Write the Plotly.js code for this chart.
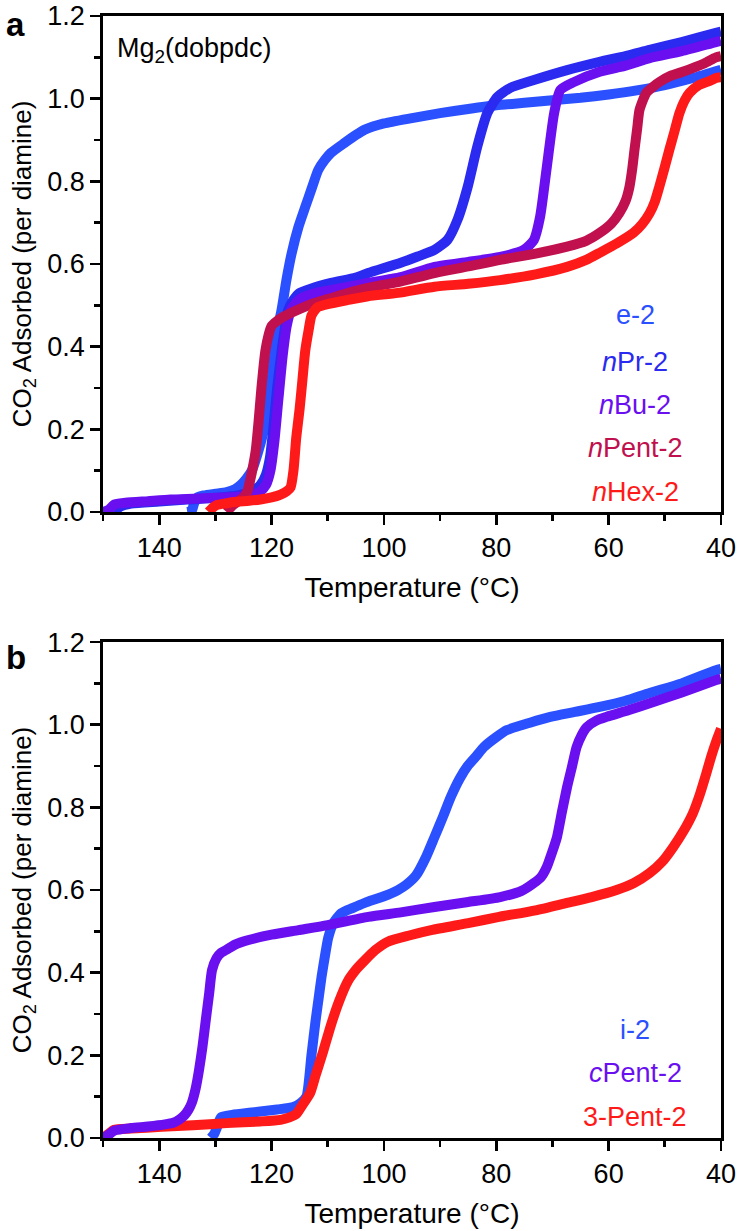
<!DOCTYPE html>
<html>
<head>
<meta charset="utf-8">
<script src="https://cdn.plot.ly/plotly-3.0.1.min.js"></script>
<style>html,body{margin:0;padding:0;background:#fff;}#chart{width:739px;height:1231px;}</style>
</head>
<body>
<div id="chart"></div>
<script>
// ---------- Panel a data : Mg2(dobpdc) ----------
const e2T = [135, 134.2, 133.8, 133.2, 132, 130, 128, 126.5, 125.5, 124.5, 123.5, 122.5, 121.5, 120.5, 119.6, 118.8, 118.2, 117.3, 116.4, 115.2, 114, 112.8, 111.7, 110.5, 109.4, 107, 105, 103.4, 100, 95, 90, 85, 80, 75, 70, 65, 60, 55, 50, 45, 40];
const e2Y = [0.0, 0.003, 0.02, 0.035, 0.04, 0.044, 0.048, 0.055, 0.065, 0.08, 0.1, 0.14, 0.19, 0.26, 0.37, 0.45, 0.49, 0.565, 0.627, 0.69, 0.738, 0.785, 0.827, 0.852, 0.869, 0.893, 0.912, 0.925, 0.94, 0.953, 0.965, 0.975, 0.984, 0.99, 0.996, 1.002, 1.01, 1.02, 1.033, 1.05, 1.07];

const nPrT = [148, 147, 145, 140, 135, 130, 126, 123.5, 122, 121, 120.3, 119.7, 119, 118.2, 117.5, 117, 116, 115.2, 113, 109.4, 105, 102.8, 97, 94, 91, 88.7, 86.9, 85.1, 83.4, 81.6, 79.8, 77.5, 73.3, 67.4, 61.6, 57, 52.7, 47, 40.9, 40];
const nPrY = [0.0, 0.012, 0.02, 0.025, 0.03, 0.034, 0.04, 0.05, 0.065, 0.09, 0.13, 0.2, 0.3, 0.39, 0.455, 0.49, 0.515, 0.528, 0.54, 0.554, 0.567, 0.578, 0.603, 0.618, 0.634, 0.658, 0.707, 0.786, 0.883, 0.965, 1.004, 1.026, 1.045, 1.069, 1.089, 1.103, 1.118, 1.137, 1.159, 1.162];

const nBuT = [150, 149, 148, 146, 142, 138, 134, 130, 126, 123.5, 122, 121, 120.2, 119.5, 118.8, 118, 117.3, 116.5, 115, 112, 109, 105, 102.8, 97, 91, 85, 79.3, 75.1, 73.3, 72.2, 71, 69.7, 68.6, 66.2, 61.6, 57, 52.7, 47, 40.9, 40];
const nBuY = [0.0, 0.005, 0.018, 0.022, 0.026, 0.03, 0.032, 0.034, 0.037, 0.042, 0.05, 0.065, 0.1, 0.17, 0.27, 0.38, 0.45, 0.49, 0.515, 0.53, 0.538, 0.548, 0.554, 0.568, 0.593, 0.605, 0.617, 0.634, 0.658, 0.714, 0.835, 0.965, 1.021, 1.04, 1.065, 1.08, 1.098, 1.115, 1.137, 1.14];

const nPentT = [128, 127, 126, 125, 124.3, 123.8, 123.3, 122.8, 122.3, 121.8, 121.1, 120.5, 120, 119, 118.2, 116, 114, 112.2, 110, 105, 100, 97.5, 91, 85, 79.3, 73, 67.4, 64, 61.6, 59.5, 58.1, 57, 56.3, 55.8, 55.4, 54.9, 54.5, 53.3, 52, 51, 49, 46.8, 43, 40.9, 40];
const nPentY = [0.0, 0.015, 0.025, 0.035, 0.05, 0.077, 0.11, 0.15, 0.22, 0.3, 0.39, 0.43, 0.45, 0.462, 0.47, 0.485, 0.497, 0.506, 0.515, 0.535, 0.55, 0.556, 0.578, 0.594, 0.61, 0.625, 0.642, 0.656, 0.675, 0.698, 0.723, 0.752, 0.786, 0.83, 0.876, 0.93, 0.973, 1.014, 1.03, 1.04, 1.055, 1.065, 1.085, 1.1, 1.103];

const nHexT = [131.2, 130.5, 129.7, 128, 126.7, 124, 122, 120, 118.4, 117.3, 116.6, 116.1, 115.6, 115, 114.5, 114, 113.4, 112.9, 112.2, 111.7, 110, 106.4, 102.8, 97.5, 91, 85, 79.3, 73, 67.4, 64, 61.6, 58.5, 55.6, 54, 52.7, 51.8, 51, 50.1, 49.2, 48.3, 47.4, 46.5, 45.6, 43.9, 42, 40.9, 40];
const nHexY = [0.0, 0.01, 0.017, 0.021, 0.024, 0.027, 0.03, 0.035, 0.042, 0.05, 0.06, 0.1, 0.18, 0.25, 0.32, 0.39, 0.44, 0.475, 0.49, 0.496, 0.503, 0.513, 0.522, 0.53, 0.545, 0.552, 0.561, 0.575, 0.593, 0.61, 0.627, 0.65, 0.675, 0.697, 0.723, 0.75, 0.786, 0.83, 0.876, 0.92, 0.965, 0.995, 1.014, 1.033, 1.043, 1.05, 1.052];

// ---------- Panel b data ----------
const i2T = [130.8, 130.2, 129.6, 129, 127, 124, 122, 119, 116.1, 114.8, 113.8, 112.9, 112.2, 111.6, 111.1, 110.5, 109.9, 109, 107.6, 105.5, 103.4, 100, 97.5, 96, 94.3, 92.5, 91, 89.5, 88.1, 86.5, 85.1, 83.5, 82.2, 80, 78.1, 74, 70.4, 66, 61.6, 57, 52.7, 47, 40.9, 40];
const i2Y = [0.0, 0.01, 0.03, 0.05, 0.056, 0.061, 0.064, 0.069, 0.075, 0.085, 0.1, 0.2, 0.28, 0.34, 0.39, 0.44, 0.485, 0.52, 0.544, 0.557, 0.569, 0.585, 0.6, 0.613, 0.635, 0.68, 0.728, 0.777, 0.825, 0.87, 0.9, 0.925, 0.946, 0.97, 0.987, 1.005, 1.019, 1.031, 1.043, 1.058, 1.077, 1.1, 1.132, 1.135];

const cPentT = [150, 149, 148, 145, 142, 139, 137.5, 136.5, 135.5, 134.8, 134.2, 133.5, 132.9, 132.3, 131.7, 131.1, 130.6, 129.8, 129, 128.1, 126.5, 124.1, 120, 115.2, 110, 102.8, 97, 91, 85, 79.3, 75.5, 73.3, 72, 71, 70.1, 69.2, 68.3, 67.4, 66.5, 65.7, 64.8, 63.9, 62.2, 60.4, 56.5, 52.7, 47, 40.9, 40];
const cPentY = [0.0, 0.008, 0.018, 0.024, 0.028, 0.033, 0.037, 0.044, 0.055, 0.068, 0.085, 0.12, 0.165, 0.22, 0.286, 0.35, 0.406, 0.435, 0.448, 0.455, 0.468, 0.479, 0.492, 0.503, 0.515, 0.535, 0.546, 0.559, 0.571, 0.583, 0.598, 0.617, 0.632, 0.656, 0.69, 0.728, 0.79, 0.849, 0.9, 0.946, 0.975, 0.994, 1.01, 1.019, 1.035, 1.052, 1.078, 1.108, 1.112];

const p3T = [150, 149, 148, 145, 139.6, 134, 128, 122, 118.4, 116.8, 115.6, 114.5, 113.1, 112.2, 111.5, 110.8, 109.5, 108, 106.4, 104.8, 103.4, 101.5, 99.3, 95.5, 91.6, 85, 79.5, 73, 67.4, 63, 58.6, 55.5, 52.7, 50.5, 48.5, 46.7, 45, 43.8, 42.6, 41.7, 40.9, 40];
const p3Y = [0.0, 0.01, 0.02, 0.023, 0.027, 0.031, 0.036, 0.04, 0.044, 0.05, 0.058, 0.08, 0.11, 0.15, 0.18, 0.21, 0.27, 0.33, 0.38, 0.41, 0.43, 0.455, 0.475, 0.49, 0.503, 0.52, 0.535, 0.551, 0.569, 0.583, 0.6, 0.617, 0.641, 0.668, 0.704, 0.742, 0.786, 0.83, 0.883, 0.925, 0.958, 0.99];

// ---------- labels, ticks ----------
const namesA = ['e-2', '<i>n</i>Pr-2', '<i>n</i>Bu-2', '<i>n</i>Pent-2', '<i>n</i>Hex-2'];
const colorsA = ['#2b50ff', '#2a2af0', '#6a10f0', '#c0104e', '#ff1a1a'];
const namesB = ['i-2', '<i>c</i>Pent-2', '3-Pent-2'];
const colorsB = ['#2b50ff', '#6a10f0', '#ff1a1a'];
const xTickVals = [140, 120, 100, 80, 60, 40];
const xTickText = ['140', '120', '100', '80', '60', '40'];
const yTickVals = [0, 0.2, 0.4, 0.6, 0.8, 1.0, 1.2];
const yTickText = ['0.0', '0.2', '0.4', '0.6', '0.8', '1.0', '1.2'];

const LW = 10;
const seriesA = [[e2T, e2Y], [nPrT, nPrY], [nBuT, nBuY], [nPentT, nPentY], [nHexT, nHexY]];
const seriesB = [[i2T, i2Y], [p3T, p3Y], [cPentT, cPentY]];
const orderB = [0, 2, 1];

const traces = [];
seriesA.forEach((s, i) => traces.push({
  x: s[0], y: s[1], type: 'scatter', mode: 'lines', name: namesA[i],
  line: {color: colorsA[i], width: LW, shape: 'spline', smoothing: 0.6}, xaxis: 'x', yaxis: 'y'
}));
seriesB.forEach((s, k) => {
  const i = orderB[k];
  traces.push({
    x: s[0], y: s[1], type: 'scatter', mode: 'lines', name: namesB[i],
    line: {color: colorsB[i], width: LW, shape: 'spline', smoothing: 0.6}, xaxis: 'x2', yaxis: 'y2'
  });
});

const FONT = 'Liberation Sans, Arial, Helvetica, sans-serif';
function xAxis(anchor) {
  return {
    anchor: anchor, domain: [0, 1], range: [150, 40], autorange: false,
    tickmode: 'array', tickvals: xTickVals, ticktext: xTickText,
    ticks: 'outside', ticklen: 10, tickwidth: 2.8, tickcolor: '#000',
    minor: {tickmode: 'linear', tick0: 0, dtick: 10, ticks: 'outside', ticklen: 6, tickwidth: 2.8, tickcolor: '#000', showgrid: false},
    showline: true, linewidth: 2.8, linecolor: '#000', mirror: true,
    showgrid: false, zeroline: false, automargin: false,
    tickfont: {family: FONT, size: 27, color: '#000'},
    title: {text: 'Temperature (°C)', font: {family: FONT, size: 28, color: '#000'}, standoff: 16}
  };
}
function yAxis(anchor, domain) {
  return {
    anchor: anchor, domain: domain, range: [0, 1.2], autorange: false,
    tickmode: 'array', tickvals: yTickVals, ticktext: yTickText,
    ticks: 'outside', ticklen: 10, tickwidth: 2.8, tickcolor: '#000',
    minor: {tickmode: 'linear', tick0: 0, dtick: 0.1, ticks: 'outside', ticklen: 6, tickwidth: 2.8, tickcolor: '#000', showgrid: false},
    showline: true, linewidth: 2.8, linecolor: '#000', mirror: true,
    showgrid: false, zeroline: false, automargin: false,
    tickfont: {family: FONT, size: 27, color: '#000'},
    title: {text: 'CO<sub>2</sub> Adsorbed (per diamine)', font: {family: FONT, size: 26, color: '#000'}, standoff: 9}
  };
}

const annotations = [];
const legYA = [0.397, 0.302, 0.216, 0.129, 0.040];
namesA.forEach((n, i) => annotations.push({
  xref: 'x domain', yref: 'y domain', x: 0.861, y: legYA[i], text: n, showarrow: false,
  xanchor: 'center', yanchor: 'middle', font: {family: FONT, size: 27, color: colorsA[i]}
}));
const legYB = [0.218, 0.131, 0.042];
namesB.forEach((n, i) => annotations.push({
  xref: 'x2 domain', yref: 'y2 domain', x: 0.861, y: legYB[i], text: n, showarrow: false,
  xanchor: 'center', yanchor: 'middle', font: {family: FONT, size: 27, color: colorsB[i]}
}));
annotations.push({xref: 'x domain', yref: 'y domain', x: 0.02, y: 0.932, text: 'Mg<sub>2</sub>(dobpdc)',
  showarrow: false, xanchor: 'left', yanchor: 'middle', font: {family: FONT, size: 27, color: '#000'}});
annotations.push({xref: 'paper', yref: 'paper', x: -0.141, y: 0.992, text: '<b>a</b>',
  showarrow: false, xanchor: 'center', yanchor: 'middle', font: {family: FONT, size: 33, color: '#000'}});
annotations.push({xref: 'paper', yref: 'paper', x: -0.141, y: 0.428, text: '<b>b</b>',
  showarrow: false, xanchor: 'center', yanchor: 'middle', font: {family: FONT, size: 33, color: '#000'}});

const layout = {
  width: 739, height: 1231,
  margin: {l: 103, r: 18, t: 16, b: 93, pad: 0},
  paper_bgcolor: '#fff', plot_bgcolor: '#fff',
  showlegend: false,
  font: {family: FONT, size: 27, color: '#000'},
  xaxis: xAxis('y'),
  yaxis: yAxis('x', [0.558, 1]),
  xaxis2: xAxis('y2'),
  yaxis2: yAxis('x2', [0, 0.442]),
  annotations: annotations
};

Plotly.newPlot('chart', traces, layout, {staticPlot: true, displayModeBar: false});
</script>
</body>
</html>
